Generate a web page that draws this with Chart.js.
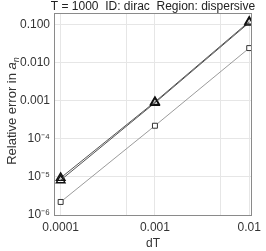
<!DOCTYPE html>
<html>
<head>
<meta charset="utf-8">
<script src="https://cdn.jsdelivr.net/npm/chart.js@4/dist/chart.umd.min.js"></script>
<style>
  html, body { margin: 0; padding: 0; background: #fff; }
  #wrap { width: 266px; height: 251px; }
</style>
</head>
<body>
<div id="wrap"><canvas id="chart"></canvas></div>
<script>
// data
const dT = [0.0001, 0.001, 0.01];
const errTriA = [9.4e-6, 9.3e-4, 0.119];
const errTriB = [8.2e-6, 8.8e-4, 0.112];
const errSquare = [2.2e-6, 2.2e-4, 0.024];

const xTicks = [0.0001, 0.0005, 0.001, 0.005, 0.01];
const xTickLabels = { 0.0001: "0.0001", 0.001: "0.001", 0.01: "0.01" };
const yTicks = [1e-6, 1e-5, 1e-4, 1e-3, 1e-2, 1e-1];
const yTickLabels = ["10\u207B\u2076", "10\u207B\u2075", "10\u207B\u2074", "0.001", "0.010", "0.100"];

const titleText = "T = 1000  ID: dirac  Region: dispersive";
const yTitleText = "Relative error in ";
const FONT = "'Liberation Sans', Arial, sans-serif";

function pts(ys) {
    return dT.map((x, i) => ({ x: x, y: ys[i] }));
}

// frame, title and y title (with italic a_n) drawn by hand
const framePlugin = {
    id: "frame",
    afterDraw(chart) {
        const a = chart.chartArea;
        const ctx = chart.ctx;
        ctx.save();
        ctx.strokeStyle = "#8a8a8a";
        ctx.lineWidth = 1;
        ctx.strokeRect(a.left + 0.5, a.top + 0.5, a.right - a.left - 1, a.bottom - a.top);

        ctx.fillStyle = "#222";
        ctx.font = "12px " + FONT;
        ctx.textAlign = "center";
        ctx.textBaseline = "middle";
        ctx.fillText(titleText, (a.left + a.right) / 2, 7);

        // y axis title
        ctx.font = "13px " + FONT;
        const w1 = ctx.measureText(yTitleText).width;
        ctx.font = "italic 13px " + FONT;
        const w2 = ctx.measureText("a").width;
        ctx.font = "italic 9px " + FONT;
        const w3 = ctx.measureText("n").width;
        const total = w1 + w2 + w3;
        ctx.translate(16, (a.top + a.bottom) / 2 - 3);
        ctx.rotate(-Math.PI / 2);
        ctx.textAlign = "left";
        ctx.textBaseline = "alphabetic";
        ctx.fillStyle = "#333";
        let x = -total / 2;
        ctx.font = "13px " + FONT;
        ctx.fillText(yTitleText, x, 0);
        x += w1;
        ctx.font = "italic 13px " + FONT;
        ctx.fillText("a", x, 0);
        x += w2;
        ctx.font = "italic 9px " + FONT;
        ctx.fillText("n", x, 3);
        ctx.restore();
    }
};

const ctx = document.getElementById("chart").getContext("2d");

new Chart(ctx, {
    type: "line",
    data: {
        datasets: [
            {
                data: pts(errSquare),
                borderColor: "#909090",
                borderWidth: 0.9,
                pointStyle: "rect",
                pointRadius: 3.5,
                pointBorderColor: "#333",
                pointBackgroundColor: "#fff",
                pointBorderWidth: 1
            },
            {
                data: pts(errTriB),
                borderColor: "#555",
                borderWidth: 1,
                pointStyle: "triangle",
                pointRadius: 5,
                pointBorderColor: "#111",
                pointBackgroundColor: "rgba(255,255,255,0)",
                pointBorderWidth: 1.4
            },
            {
                data: pts(errTriA),
                borderColor: "#555",
                borderWidth: 1,
                pointStyle: "triangle",
                pointRadius: 5,
                pointBorderColor: "#111",
                pointBackgroundColor: "rgba(255,255,255,0)",
                pointBorderWidth: 1.4
            }
        ]
    },
    options: {
        responsive: true,
        maintainAspectRatio: false,
        animation: false,
        layout: { padding: { top: 13, right: 7, left: 0, bottom: 0 } },
        plugins: {
            legend: { display: false },
            tooltip: { enabled: false },
            title: { display: false }
        },
        scales: {
            x: {
                type: "logarithmic",
                min: 8.5e-5,
                max: 0.0107,
                afterBuildTicks(scale) {
                    scale.ticks = xTicks.map(v => ({ value: v }));
                },
                afterFit(scale) { scale.height = 36; },
                grid: { color: "#e6e6e6", drawTicks: false },
                border: { display: false },
                ticks: {
                    autoSkip: false,
                    maxRotation: 0,
                    padding: 5,
                    color: "#333",
                    font: { size: 12, family: FONT },
                    callback: v => xTickLabels[v] || ""
                },
                title: {
                    display: true,
                    text: "dT",
                    color: "#333",
                    padding: { top: 7, bottom: 0 },
                    font: { size: 12, family: FONT }
                }
            },
            y: {
                type: "logarithmic",
                min: 1e-6,
                max: 0.2,
                afterBuildTicks(scale) {
                    scale.ticks = yTicks.map(v => ({ value: v }));
                },
                afterFit(scale) { scale.width = 54; },
                grid: { color: "#e6e6e6", drawTicks: false },
                border: { display: false },
                ticks: {
                    autoSkip: false,
                    padding: 4,
                    color: "#333",
                    font: { size: 12, family: FONT },
                    callback: (v, i) => yTickLabels[i]
                }
            }
        }
    },
    plugins: [framePlugin]
});
</script>
</body>
</html>
